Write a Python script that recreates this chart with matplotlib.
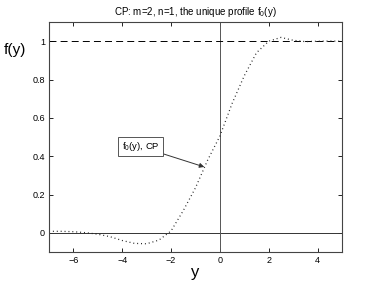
import matplotlib
matplotlib.use("Agg")
import matplotlib.pyplot as plt

plt.rcParams['font.family'] = ['Liberation Sans', 'DejaVu Sans']
plt.rcParams['lines.scale_dashes'] = False
plt.rcParams['mathtext.fontset'] = 'custom'
plt.rcParams['mathtext.rm'] = 'Liberation Sans'
plt.rcParams['mathtext.it'] = 'Liberation Sans'

# profile f0(y)
y_vals = [-7.0, -6.5, -6.0, -5.5, -5.0, -4.5, -4.0, -3.5, -3.0, -2.5,
          -2.0, -1.5, -1.0, -0.5, 0.0, 0.5, 1.0, 1.5, 2.0, 2.5,
          3.0, 3.5, 4.0, 4.5, 5.0]
f_vals = [0.008, 0.008, 0.006, 0.001, -0.007, -0.02, -0.04, -0.055, -0.057, -0.038,
          0.01, 0.116, 0.235, 0.38, 0.505, 0.675, 0.82, 0.94, 1.0, 1.02,
          1.005, 0.998, 1.0, 1.001, 1.0]

xticks = [-6, -4, -2, 0, 2, 4]
yticks = [0, 0.2, 0.4, 0.6, 0.8, 1]
ytick_labels = ['0', '0.2', '0.4', '0.6', '0.8', '1']

fig = plt.figure(figsize=(3.77, 2.83), dpi=100)
fig.set_facecolor('white')
ax = fig.add_axes([0.130, 0.1095, 0.777, 0.8125])

ax.axhline(0, color='#333333', lw=0.7)
ax.axvline(0, color='#555555', lw=0.7)
ax.axhline(1, color='black', lw=0.7, linestyle=(0, (5, 3)))
ax.plot(y_vals, f_vals, color='#222222', lw=0.9, linestyle=(0, (0.7, 2.1)))

ax.set_xlim(-7, 5)
ax.set_ylim(-0.1, 1.1)
ax.set_xticks(xticks)
ax.set_xticklabels(['\u22126', '\u22124', '\u22122', '0', '2', '4'])
ax.set_yticks(yticks)
ax.set_yticklabels(ytick_labels)
ax.tick_params(direction='in', length=3, width=0.6, labelsize=6.5,
               top=True, right=True, pad=3)
for s in ax.spines.values():
    s.set_linewidth(0.8)
    s.set_color('#444444')

ax.set_title('CP: m=2, n=1, the unique profile f$_0$(y)', fontsize=7, pad=5)
ax.set_xlabel('y', fontsize=12, labelpad=0)
ax.set_ylabel('f(y)', fontsize=11, rotation=0, labelpad=0)
ax.yaxis.set_label_coords(-0.115, 0.85)

ax.annotate('f$_0$(y), CP', xy=(-0.64, 0.344), xytext=(-3.25, 0.45),
            fontsize=6.8, ha='center', va='center',
            bbox=dict(boxstyle='square,pad=0.35', fc='white', ec='#555555', lw=0.7),
            arrowprops=dict(arrowstyle='-|>', color='#333333', lw=0.7,
                            mutation_scale=7, shrinkA=0, shrinkB=0))

fig.savefig('out.png', dpi=100)
